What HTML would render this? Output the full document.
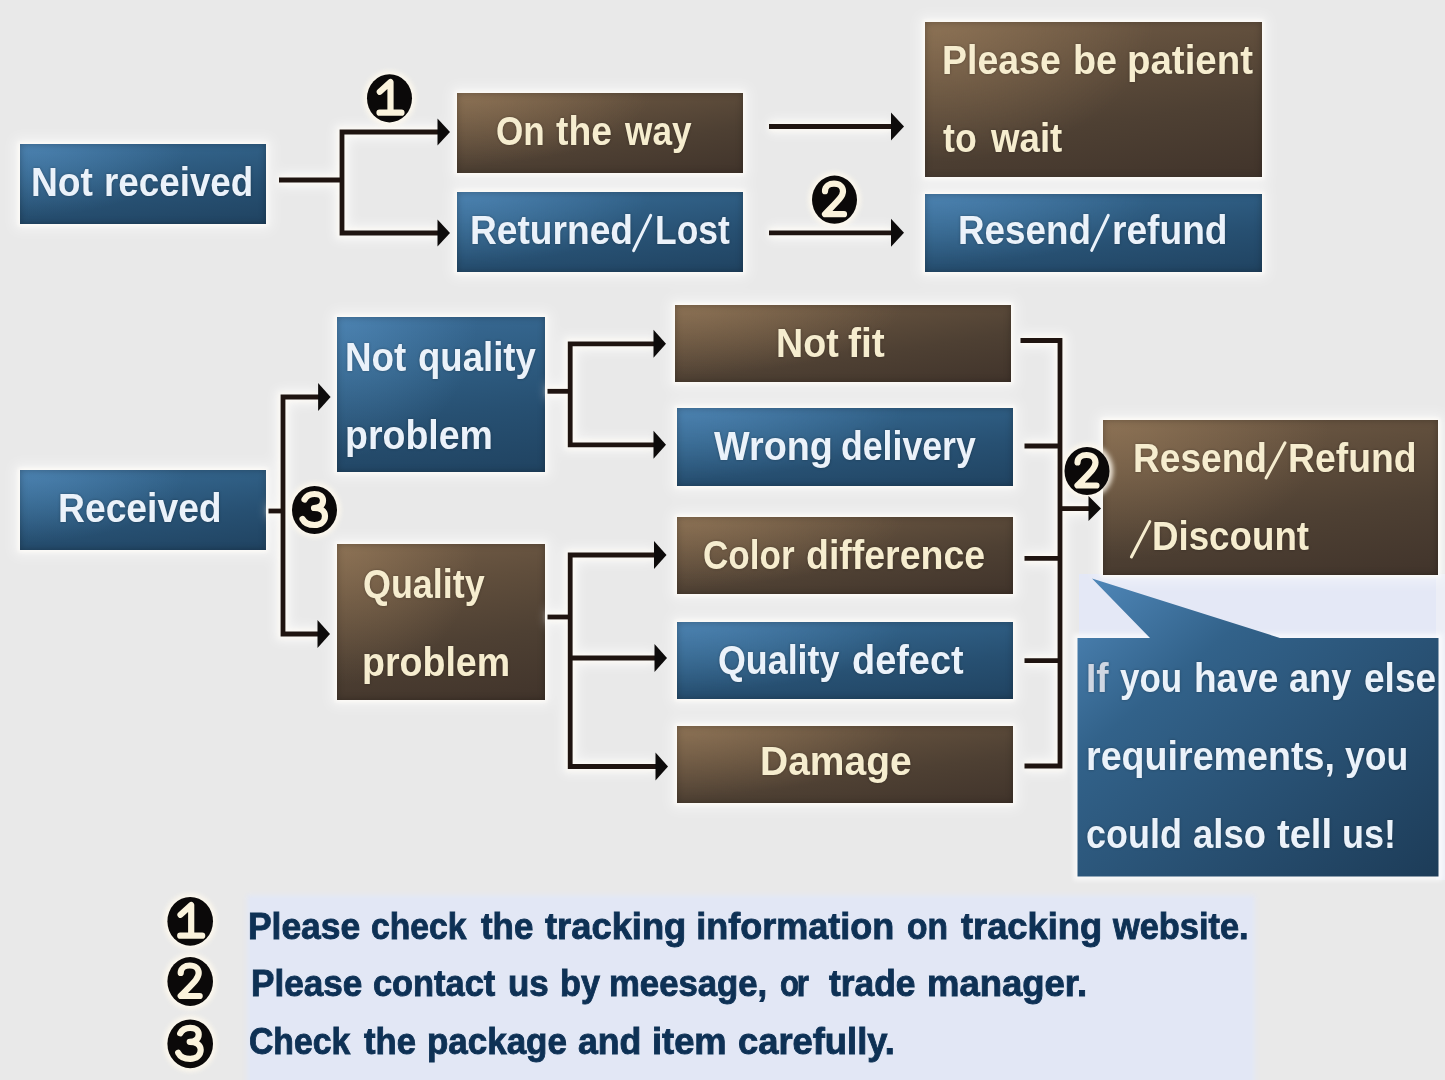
<!DOCTYPE html>
<html><head><meta charset="utf-8"><title>Flow</title>
<style>
html,body{margin:0;padding:0}
body{width:1445px;height:1080px;overflow:hidden;position:relative;background:#e9e9e9;font-family:"Liberation Sans",sans-serif}
.b{position:absolute;box-shadow:inset 0 0 7px rgba(0,0,0,.28),0 0 4px 2px rgba(255,253,248,.9),0 0 13px 6px rgba(255,255,255,.5)}
.br{background:radial-gradient(ellipse 85% 120% at 4% 0%,rgba(165,134,98,.5),rgba(165,134,98,0) 75%),linear-gradient(171deg,#735d47 0%,#604e3c 30%,#4e4033 62%,#41342b 100%)}
.bl{background:radial-gradient(ellipse 85% 120% at 4% 0%,rgba(95,155,205,.48),rgba(95,155,205,0) 75%),linear-gradient(173deg,#3a6b96 0%,#305f85 30%,#275072 62%,#204361 100%)}
.t{position:absolute;white-space:nowrap;line-height:1;transform-origin:0 0;font-weight:bold;word-spacing:3px;text-shadow:0 0 3px rgba(0,0,0,.3)}
.bt{position:absolute;white-space:nowrap;line-height:1;transform-origin:0 0;font-weight:bold;word-spacing:4px;color:#0e3155;-webkit-text-stroke:.9px #0e3155}
svg{position:absolute;left:0;top:0}
#w{position:absolute;left:0;top:0;width:1445px;height:1080px;overflow:hidden;filter:blur(.55px)}
</style></head><body>
<div id="w">
<div style="position:absolute;left:1079px;top:574px;width:366px;height:66px;background:#e4e8f6"></div><div style="position:absolute;left:1436px;top:574px;width:9px;height:306px;background:#eceef6"></div>
<div style="position:absolute;left:250px;top:898px;width:1002px;height:190px;background:#e2e7f5;box-shadow:0 0 5px 3px #e2e7f5"></div>
<div class="b bl" style="left:20px;top:143.5px;width:246px;height:80.0px"></div>
<div class="b br" style="left:456.5px;top:92.5px;width:286.5px;height:80.5px"></div>
<div class="b bl" style="left:456.5px;top:192px;width:286.5px;height:79.5px"></div>
<div class="b br" style="left:925px;top:21.5px;width:336.5px;height:155.5px"></div>
<div class="b bl" style="left:925px;top:193.5px;width:336.5px;height:78.5px"></div>
<div class="b bl" style="left:337px;top:316.5px;width:207.5px;height:155.0px"></div>
<div class="b bl" style="left:20px;top:470px;width:246px;height:79.5px"></div>
<div class="b br" style="left:337px;top:544px;width:207.5px;height:155.5px"></div>
<div class="b br" style="left:675px;top:304.5px;width:336px;height:77.5px"></div>
<div class="b bl" style="left:676.5px;top:408px;width:336.5px;height:77.5px"></div>
<div class="b br" style="left:676.5px;top:517px;width:336.5px;height:76.5px"></div>
<div class="b bl" style="left:676.5px;top:621.5px;width:336.5px;height:77.5px"></div>
<div class="b br" style="left:676.5px;top:725.5px;width:336.5px;height:77.0px"></div>
<div class="b br" style="left:1103px;top:419.5px;width:335px;height:155.0px"></div>
<svg width="1445" height="1080" viewBox="0 0 1445 1080">
<defs><linearGradient id="cg" x1="0" y1="0" x2="1" y2="1"><stop offset="0" stop-color="#5189bb"/><stop offset=".3" stop-color="#32628a"/><stop offset="1" stop-color="#1d3c58"/></linearGradient><filter id="gl" x="-30%" y="-30%" width="160%" height="160%"><feGaussianBlur stdDeviation="2.5"/></filter><filter id="gl2" x="-30%" y="-30%" width="160%" height="160%"><feGaussianBlur stdDeviation="6"/></filter></defs>
<g filter="url(#gl2)" stroke="#ffffff" stroke-width="16" fill="none" opacity=".55"><polyline points="279,180 342,180"/><polyline points="439,132 342,132 342,233 439,233"/><polyline points="769,126.5 892,126.5"/><polyline points="769,232.8 892,232.8"/><polyline points="268.5,511 283,511"/><polyline points="319,397 283,397 283,634 319,634"/><polyline points="547.5,391.3 570.2,391.3"/><polyline points="655,343.8 570.2,343.8 570.2,444.8 655,444.8"/><polyline points="547.5,617 570.2,617"/><polyline points="655,555 570.2,555 570.2,766.5 656,766.5"/><polyline points="570.2,658 655,658"/><polyline points="1020.5,340.5 1060,340.5 1060,766 1024.5,766"/><polyline points="1024.5,446 1060,446"/><polyline points="1024.5,558.4 1060,558.4"/><polyline points="1024.5,660.7 1060,660.7"/><polyline points="1060,508.6 1090,508.6"/></g>
<g filter="url(#gl)" stroke="#fffcf5" stroke-width="9" fill="none" opacity=".85"><polyline points="279,180 342,180"/><polyline points="439,132 342,132 342,233 439,233"/><polyline points="769,126.5 892,126.5"/><polyline points="769,232.8 892,232.8"/><polyline points="268.5,511 283,511"/><polyline points="319,397 283,397 283,634 319,634"/><polyline points="547.5,391.3 570.2,391.3"/><polyline points="655,343.8 570.2,343.8 570.2,444.8 655,444.8"/><polyline points="547.5,617 570.2,617"/><polyline points="655,555 570.2,555 570.2,766.5 656,766.5"/><polyline points="570.2,658 655,658"/><polyline points="1020.5,340.5 1060,340.5 1060,766 1024.5,766"/><polyline points="1024.5,446 1060,446"/><polyline points="1024.5,558.4 1060,558.4"/><polyline points="1024.5,660.7 1060,660.7"/><polyline points="1060,508.6 1090,508.6"/></g>
<g filter="url(#gl)" fill="#fffaee" opacity=".9"><ellipse cx="389.5" cy="98.3" rx="26.0" ry="27.575000000000003"/><ellipse cx="834.5" cy="199.7" rx="26.0" ry="27.575000000000003"/><ellipse cx="314.5" cy="510" rx="26.0" ry="27.575000000000003"/><ellipse cx="1087" cy="471" rx="26.0" ry="27.575000000000003"/><ellipse cx="190.2" cy="921.3" rx="26.3" ry="27.896"/><ellipse cx="190.2" cy="981.5" rx="26.3" ry="27.896"/><ellipse cx="190.2" cy="1043.8" rx="26.3" ry="27.896"/></g>
<rect x="1077.5" y="638" width="361" height="238.4" fill="#fff" stroke="#fff" stroke-width="8" opacity=".7" filter="url(#gl)"/>
<path d="M1077.5 638 L1150 638 L1092 578.5 L1280 638 L1438.5 638 L1438.5 876.4 L1077.5 876.4 Z" fill="url(#cg)"/>
<g stroke="#1f1410" stroke-width="4.8" fill="none" stroke-linejoin="miter" stroke-linecap="butt"><polyline points="279,180 342,180"/><polyline points="439,132 342,132 342,233 439,233"/><polyline points="769,126.5 892,126.5"/><polyline points="769,232.8 892,232.8"/><polyline points="268.5,511 283,511"/><polyline points="319,397 283,397 283,634 319,634"/><polyline points="547.5,391.3 570.2,391.3"/><polyline points="655,343.8 570.2,343.8 570.2,444.8 655,444.8"/><polyline points="547.5,617 570.2,617"/><polyline points="655,555 570.2,555 570.2,766.5 656,766.5"/><polyline points="570.2,658 655,658"/><polyline points="1020.5,340.5 1060,340.5 1060,766 1024.5,766"/><polyline points="1024.5,446 1060,446"/><polyline points="1024.5,558.4 1060,558.4"/><polyline points="1024.5,660.7 1060,660.7"/><polyline points="1060,508.6 1090,508.6"/></g>
<g fill="#0d0b0b"><polygon points="450,132 437.5,118.5 437.5,145.5"/><polygon points="450,233 437.5,219.5 437.5,246.5"/><polygon points="904,126.5 891,112.5 891,140.5"/><polygon points="904,232.8 891,218.8 891,246.8"/><polygon points="330.6,397 318.1,383 318.1,411"/><polygon points="330,634 317.5,620 317.5,648"/><polygon points="666,343.8 653.5,329.8 653.5,357.8"/><polygon points="666,444.8 653.5,430.8 653.5,458.8"/><polygon points="666.5,555 654.0,541 654.0,569"/><polygon points="667,658 654.5,644 654.5,672"/><polygon points="668,766.5 655.5,752.5 655.5,780.5"/><polygon points="1101,508.6 1088.5,496.1 1088.5,521.1"/></g>
<g fill="#0b0909"><ellipse cx="389.5" cy="98.3" rx="22.5" ry="24.08"/><ellipse cx="834.5" cy="199.7" rx="22.5" ry="24.08"/><ellipse cx="314.5" cy="510" rx="22.5" ry="24.08"/><ellipse cx="1087" cy="471" rx="22.5" ry="24.08"/><ellipse cx="190.2" cy="921.3" rx="22.8" ry="24.40"/><ellipse cx="190.2" cy="981.5" rx="22.8" ry="24.40"/><ellipse cx="190.2" cy="1043.8" rx="22.8" ry="24.40"/></g>
<g fill="none" stroke="#fbf3dc" stroke-width="6.2" stroke-linecap="round" stroke-linejoin="round"><path transform="translate(389.5,98.3)" d="M-9.7,-6.5 L1,-16.3 L1,14.4 M-10,14.4 L12,14.4"/><path transform="translate(834.5,199.7)" d="M-9.5,-8.5 C-9.5,-13.5 -5,-16 -0.5,-16 C5,-16 8.5,-13 8.5,-8.5 C8.5,-3 3,1.5 -9.5,14.5 L9.5,14.5"/><path transform="translate(314.5,510)" d="M-10,-10.5 C-8,-14.5 -4,-16 0,-16 C5,-16 8.5,-13.5 8.5,-9.5 C8.5,-5 5,-2 -0.5,-2 C6,-2 10.5,1 10.5,6 C10.5,11.5 6,15 0,15 C-5.5,15 -10,13 -12,9"/><path transform="translate(1087,471)" d="M-9.5,-8.5 C-9.5,-13.5 -5,-16 -0.5,-16 C5,-16 8.5,-13 8.5,-8.5 C8.5,-3 3,1.5 -9.5,14.5 L9.5,14.5"/><path transform="translate(190.2,921.3)" d="M-9.7,-6.5 L1,-16.3 L1,14.4 M-10,14.4 L12,14.4"/><path transform="translate(190.2,981.5)" d="M-9.5,-8.5 C-9.5,-13.5 -5,-16 -0.5,-16 C5,-16 8.5,-13 8.5,-8.5 C8.5,-3 3,1.5 -9.5,14.5 L9.5,14.5"/><path transform="translate(190.2,1043.8)" d="M-10,-10.5 C-8,-14.5 -4,-16 0,-16 C5,-16 8.5,-13.5 8.5,-9.5 C8.5,-5 5,-2 -0.5,-2 C6,-2 10.5,1 10.5,6 C10.5,11.5 6,15 0,15 C-5.5,15 -10,13 -12,9"/></g>
<g fill="none" stroke-width="3" stroke-linecap="round"><line x1="633.6" y1="250.6" x2="650.7" y2="215.3" stroke="#ebf2fa"/><line x1="1091.7" y1="250.4" x2="1108.3" y2="215.3" stroke="#ebf2fa"/><line x1="1266.1" y1="478" x2="1285" y2="442.8" stroke="#f6edcf"/><line x1="1131.4" y1="557" x2="1149.8" y2="521.6" stroke="#f6edcf"/></g>
</svg>
<span class="t" style="left:30.74px;top:161.64px;font-size:40px;color:#ebf2fa;transform:scaleX(0.9297)">Not</span>
<span class="t" style="left:103.76px;top:161.64px;font-size:40px;color:#ebf2fa;transform:scaleX(0.9195)">received</span>
<span class="t" style="left:495.72px;top:110.84px;font-size:40px;color:#f6edcf;transform:scaleX(0.8769)">On</span>
<span class="t" style="left:555.60px;top:110.84px;font-size:40px;color:#f6edcf;transform:scaleX(0.9327)">the</span>
<span class="t" style="left:625.38px;top:110.84px;font-size:40px;color:#f6edcf;transform:scaleX(0.8803)">way</span>
<span class="t" style="left:469.74px;top:209.84px;font-size:40px;color:#ebf2fa;transform:scaleX(0.9285)">Returned</span>
<span class="t" style="left:654.93px;top:209.84px;font-size:40px;color:#ebf2fa;transform:scaleX(0.8854)">Lost</span>
<span class="t" style="left:942.43px;top:39.94px;font-size:40px;color:#f6edcf;transform:scaleX(0.9366)">Please</span>
<span class="t" style="left:1072.51px;top:39.94px;font-size:40px;color:#f6edcf;transform:scaleX(0.9440)">be</span>
<span class="t" style="left:1127.28px;top:39.94px;font-size:40px;color:#f6edcf;transform:scaleX(0.9605)">patient</span>
<span class="t" style="left:942.90px;top:117.94px;font-size:40px;color:#f6edcf;transform:scaleX(0.8921)">to</span>
<span class="t" style="left:990.92px;top:117.94px;font-size:40px;color:#f6edcf;transform:scaleX(0.9162)">wait</span>
<span class="t" style="left:957.76px;top:210.44px;font-size:40px;color:#ebf2fa;transform:scaleX(0.9203)">Resend</span>
<span class="t" style="left:1111.74px;top:210.44px;font-size:40px;color:#ebf2fa;transform:scaleX(0.9283)">refund</span>
<span class="t" style="left:345.16px;top:336.84px;font-size:40px;color:#ebf2fa;transform:scaleX(0.9204)">Not</span>
<span class="t" style="left:417.89px;top:336.84px;font-size:40px;color:#ebf2fa;transform:scaleX(0.9140)">quality</span>
<span class="t" style="left:345.12px;top:414.94px;font-size:40px;color:#ebf2fa;transform:scaleX(0.9376)">problem</span>
<span class="t" style="left:57.94px;top:488.14px;font-size:40px;color:#ebf2fa;transform:scaleX(0.9315)">Received</span>
<span class="t" style="left:362.80px;top:564.14px;font-size:40px;color:#f6edcf;transform:scaleX(0.8977)">Quality</span>
<span class="t" style="left:361.82px;top:641.64px;font-size:40px;color:#f6edcf;transform:scaleX(0.9389)">problem</span>
<span class="t" style="left:775.62px;top:322.74px;font-size:40px;color:#f6edcf;transform:scaleX(0.9406)">Not</span>
<span class="t" style="left:848.30px;top:322.74px;font-size:40px;color:#f6edcf;transform:scaleX(0.9751)">fit</span>
<span class="t" style="left:714.00px;top:425.94px;font-size:40px;color:#ebf2fa;transform:scaleX(0.9436)">Wrong</span>
<span class="t" style="left:841.01px;top:425.94px;font-size:40px;color:#ebf2fa;transform:scaleX(0.8909)">delivery</span>
<span class="t" style="left:703.02px;top:534.54px;font-size:40px;color:#f6edcf;transform:scaleX(0.8769)">Color</span>
<span class="t" style="left:805.96px;top:534.54px;font-size:40px;color:#f6edcf;transform:scaleX(0.9369)">difference</span>
<span class="t" style="left:718.10px;top:639.94px;font-size:40px;color:#ebf2fa;transform:scaleX(0.8955)">Quality</span>
<span class="t" style="left:852.15px;top:639.94px;font-size:40px;color:#ebf2fa;transform:scaleX(0.9477)">defect</span>
<span class="t" style="left:760.35px;top:740.54px;font-size:40px;color:#f6edcf;transform:scaleX(0.9745)">Damage</span>
<span class="t" style="left:1133.15px;top:437.74px;font-size:40px;color:#f6edcf;transform:scaleX(0.9268)">Resend</span>
<span class="t" style="left:1287.63px;top:437.74px;font-size:40px;color:#f6edcf;transform:scaleX(0.9331)">Refund</span>
<span class="t" style="left:1152.06px;top:515.64px;font-size:40px;color:#f6edcf;transform:scaleX(0.9177)">Discount</span>
<span class="t" style="left:1085.75px;top:657.74px;font-size:40px;color:#cfd6e2;transform:scaleX(0.9259)">If</span>
<span class="t" style="left:1120.40px;top:657.74px;font-size:40px;color:#ebf2fa;transform:scaleX(0.8751)">you</span>
<span class="t" style="left:1193.85px;top:657.74px;font-size:40px;color:#ebf2fa;transform:scaleX(0.9246)">have</span>
<span class="t" style="left:1289.30px;top:657.74px;font-size:40px;color:#ebf2fa;transform:scaleX(0.9042)">any</span>
<span class="t" style="left:1363.97px;top:657.74px;font-size:40px;color:#ebf2fa;transform:scaleX(0.9259)">else</span>
<span class="t" style="left:1085.72px;top:736.04px;font-size:40px;color:#ebf2fa;transform:scaleX(0.9408)">requirements,</span>
<span class="t" style="left:1345.20px;top:736.04px;font-size:40px;color:#ebf2fa;transform:scaleX(0.8911)">you</span>
<span class="t" style="left:1086.10px;top:814.24px;font-size:40px;color:#ebf2fa;transform:scaleX(0.8990)">could</span>
<span class="t" style="left:1192.79px;top:814.24px;font-size:40px;color:#ebf2fa;transform:scaleX(0.9110)">also</span>
<span class="t" style="left:1277.00px;top:814.24px;font-size:40px;color:#ebf2fa;transform:scaleX(0.9519)">tell</span>
<span class="t" style="left:1342.20px;top:814.24px;font-size:40px;color:#ebf2fa;transform:scaleX(0.8998)">us!</span>
<span class="bt" style="left:248.23px;top:908.53px;font-size:36px;transform:scaleX(0.9831)">Please</span>
<span class="bt" style="left:371.16px;top:908.53px;font-size:36px;transform:scaleX(0.9358)">check</span>
<span class="bt" style="left:481.00px;top:908.53px;font-size:36px;transform:scaleX(0.9683)">the</span>
<span class="bt" style="left:545.00px;top:908.53px;font-size:36px;transform:scaleX(1.0090)">tracking</span>
<span class="bt" style="left:696.20px;top:908.53px;font-size:36px;transform:scaleX(1.0000)">information</span>
<span class="bt" style="left:907.07px;top:908.53px;font-size:36px;transform:scaleX(0.9319)">on</span>
<span class="bt" style="left:960.70px;top:908.53px;font-size:36px;transform:scaleX(1.0076)">tracking</span>
<span class="bt" style="left:1113.26px;top:908.53px;font-size:36px;transform:scaleX(0.9550)">website.</span>
<span class="bt" style="left:250.75px;top:965.93px;font-size:36px;transform:scaleX(0.9750)">Please</span>
<span class="bt" style="left:373.45px;top:965.93px;font-size:36px;transform:scaleX(0.9549)">contact</span>
<span class="bt" style="left:508.26px;top:965.93px;font-size:36px;transform:scaleX(0.9695)">us</span>
<span class="bt" style="left:560.10px;top:965.93px;font-size:36px;transform:scaleX(0.9502)">by</span>
<span class="bt" style="left:609.37px;top:965.93px;font-size:36px;transform:scaleX(0.9644)">meesage,</span>
<span class="bt" style="left:780.34px;top:965.93px;font-size:36px;letter-spacing:-2.5px;transform:scaleX(0.8649)">or</span>
<span class="bt" style="left:829.40px;top:965.93px;font-size:36px;transform:scaleX(0.9815)">trade</span>
<span class="bt" style="left:927.27px;top:965.93px;font-size:36px;transform:scaleX(1.0131)">manager.</span>
<span class="bt" style="left:249.26px;top:1024.13px;font-size:36px;transform:scaleX(0.9368)">Check</span>
<span class="bt" style="left:364.20px;top:1024.13px;font-size:36px;transform:scaleX(0.9608)">the</span>
<span class="bt" style="left:427.46px;top:1024.13px;font-size:36px;transform:scaleX(0.9705)">package</span>
<span class="bt" style="left:578.01px;top:1024.13px;font-size:36px;transform:scaleX(0.9900)">and</span>
<span class="bt" style="left:651.68px;top:1024.13px;font-size:36px;transform:scaleX(1.0084)">item</span>
<span class="bt" style="left:737.79px;top:1024.13px;font-size:36px;transform:scaleX(1.0091)">carefully.</span>
</div>
</body></html>
